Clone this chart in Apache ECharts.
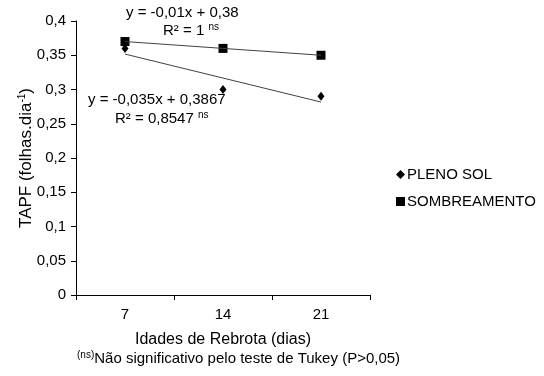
<!DOCTYPE html>
<html>
<head>
<meta charset="utf-8">
<script src="https://cdn.jsdelivr.net/npm/echarts@6/dist/echarts.min.js"></script>
<style>
html, body { margin: 0; padding: 0; background: #fff; }
#chart { width: 544px; height: 376px; }
</style>
</head>
<body>
<div id="chart"></div>
<script>
var idades = ['7', '14', '21'];
var plenoSol = [0.36, 0.30, 0.29];
var sombreamento = [0.37, 0.36, 0.35];
// trend lines
var tendPleno = [0.3517, 0.3167, 0.2817];
var tendSomb = [0.37, 0.36, 0.35];

var font = 'Liberation Sans, Arial, sans-serif';
var chart = echarts.init(document.getElementById('chart'));

function virgula(v) {
  return String(Math.round(v * 100) / 100).replace('.', ',');
}

var sup = { fontSize: 10, fontFamily: font, verticalAlign: 'top', padding: [0, 0, 7, 0] };

var option = {
  animation: false,
  textStyle: { fontFamily: font, color: '#000' },
  grid: { left: 76, right: 174, top: 21, bottom: 81 },
  xAxis: {
    type: 'category',
    data: idades,
    boundaryGap: true,
    name: 'Idades de Rebrota (dias)',
    nameLocation: 'middle',
    nameGap: 37,
    nameMoveOverlap: false,
    nameTextStyle: { fontSize: 16, color: '#000', fontFamily: font },
    axisLine: { lineStyle: { color: '#000', width: 1 } },
    axisTick: { show: true, length: 5, lineStyle: { color: '#000' } },
    axisLabel: { fontSize: 15, color: '#000', margin: 12, fontFamily: font }
  },
  yAxis: {
    type: 'value',
    min: 0,
    max: 0.4,
    interval: 0.05,
    name: 'TAPF (folhas.dia{s|-1})',
    nameLocation: 'middle',
    nameGap: 41,
    nameMoveOverlap: false,
    nameTextStyle: {
      fontSize: 17, color: '#000', fontFamily: font,
      rich: { s: { fontSize: 10, verticalAlign: 'top', padding: [0, 0, 8, 0], fontFamily: font } }
    },
    splitLine: { show: false },
    axisLine: { show: true, lineStyle: { color: '#000', width: 1 } },
    axisTick: { show: true, length: 5, lineStyle: { color: '#000' } },
    axisLabel: { fontSize: 15, color: '#000', margin: 10, fontFamily: font, formatter: virgula }
  },
  legend: {
    orient: 'vertical',
    left: 391,
    top: 162,
    itemWidth: 9,
    itemHeight: 9,
    itemGap: 12,
    textStyle: { fontSize: 15, color: '#000', fontFamily: font, padding: [0, 0, 0, -3] },
    data: [
      { name: 'PLENO SOL', icon: 'diamond', itemStyle: { color: '#000', opacity: 1 } },
      { name: 'SOMBREAMENTO', icon: 'rect', itemStyle: { color: '#000', opacity: 1 } }
    ]
  },
  series: [
    {
      name: 'tend1',
      type: 'line',
      data: tendPleno,
      symbol: 'none',
      lineStyle: { color: '#404040', width: 1 },
      silent: true
    },
    {
      name: 'tend2',
      type: 'line',
      data: tendSomb,
      symbol: 'none',
      lineStyle: { color: '#404040', width: 1 },
      silent: true
    },
    {
      name: 'SOMBREAMENTO',
      type: 'scatter',
      data: sombreamento,
      symbol: 'rect',
      symbolSize: 9,
      itemStyle: { color: '#000', opacity: 1 }
    },
    {
      name: 'PLENO SOL',
      type: 'scatter',
      data: plenoSol,
      symbol: 'diamond',
      symbolSize: [7, 9],
      itemStyle: { color: '#000', opacity: 1 }
    }
  ],
  graphic: [
    {
      type: 'text', left: 126, top: 5,
      style: { text: 'y = -0,01x + 0,38', font: '15px ' + font, fill: '#000' }
    },
    {
      type: 'text', left: 163, top: 22,
      style: { text: 'R² = 1 {s|ns}', font: '15px ' + font, fill: '#000', rich: { s: sup } }
    },
    {
      type: 'text', left: 88, top: 92,
      style: { text: 'y = -0,035x + 0,3867', font: '15px ' + font, fill: '#000' }
    },
    {
      type: 'text', left: 115, top: 110,
      style: { text: 'R² = 0,8547 {s|ns}', font: '15px ' + font, fill: '#000', rich: { s: sup } }
    },
    {
      type: 'text', left: 77, top: 350,
      style: {
        text: '{s|(ns)}Não significativo pelo teste de Tukey (P>0,05)',
        font: '15px ' + font, fill: '#000', rich: { s: sup }
      }
    }
  ]
};
chart.setOption(option);
</script>
</body>
</html>
